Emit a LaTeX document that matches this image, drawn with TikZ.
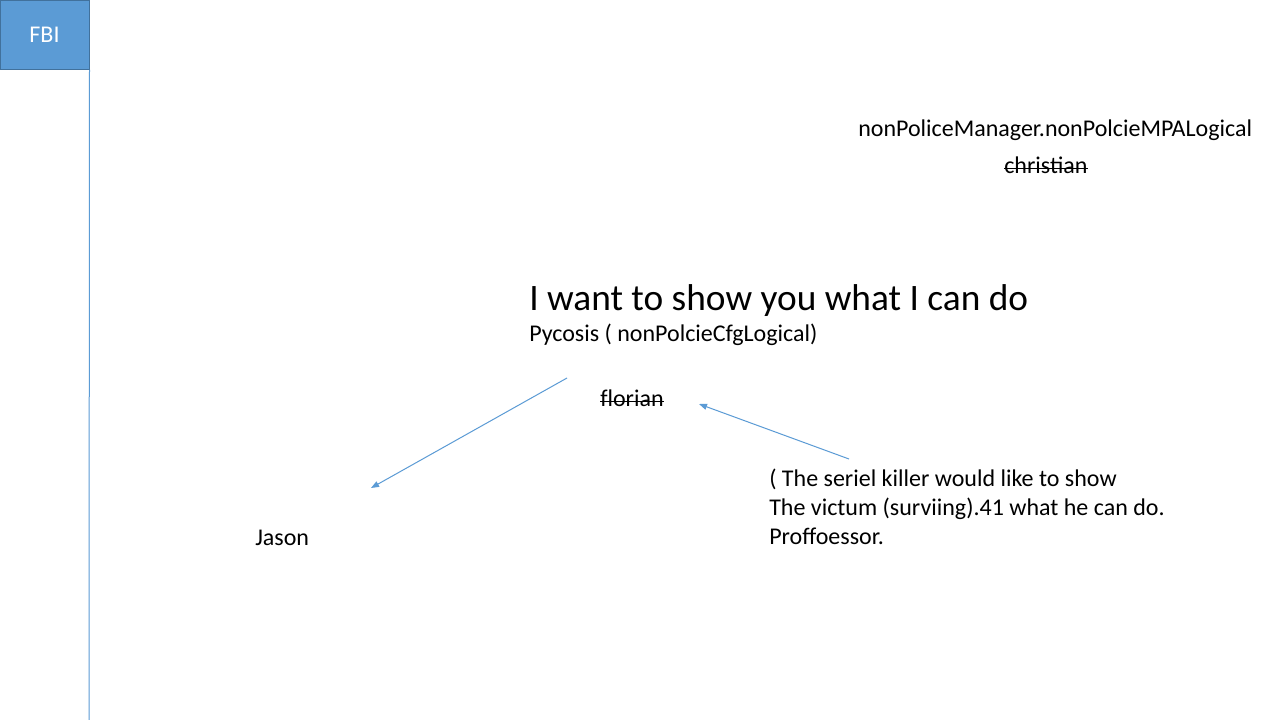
\documentclass[tikz,border=0pt]{standalone}
\usepackage{fontspec}
\setmainfont{Carlito}
\usetikzlibrary{arrows.meta}
\definecolor{accent}{HTML}{5B9BD5}
\definecolor{accentdark}{HTML}{41719C}
\tikzset{
  txt/.style={inner sep=0pt, anchor=base west, font=\fontsize{18}{21.75}\selectfont},
  bigtxt/.style={inner sep=0pt, anchor=base west, font=\fontsize{28}{33}\selectfont},
  conn/.style={draw=accent, line width=0.75pt, -{Triangle[length=6pt,width=4.5pt]}},
  fbibox/.style={fill=accent, draw=accentdark, line width=0.75pt, text=white, font=\fontsize{18}{21.75}\selectfont, inner sep=0pt, minimum width=66.75pt, minimum height=51.75pt},
  strike/.style={draw=black, line width=0.9pt}
}
\begin{document}
\begin{tikzpicture}[x=0.75pt,y=-0.75pt]
\useasboundingbox (0,0) rectangle (1280,720);
\fill[white] (0,0) rectangle (1280,720);
% FBI box and vertical line
\node[fbibox] (fbi) at (44.5,35) {FBI};
\coordinate (lineend) at (89,720);
\draw[accent, line width=0.75pt] (fbi.south east) -- (lineend);
% top right
\node[txt] (mgr) at (858,137) {nonPoliceManager.nonPolcieMPALogical};
\node[txt] (christian) at (1004,174) {christian};
\draw[strike] ([yshift=4pt]christian.base west) -- ([yshift=4pt]christian.base east);
% center
\node[bigtxt] (title) at (529,310) {I want to show you what I can do};
\node[txt] (pycosis) at (529,341.5) {Pycosis ( nonPolcieCfgLogical)};
\node[txt] (florian) at (600,406.5) {f\kern0pt lorian};
\draw[strike] ([yshift=4pt]florian.base west) -- ([yshift=4pt]florian.base east);
% paragraph
\node[txt] (p1) at (769,486.5) {( The seriel killer would like to show};
\node[txt] (p2) at (769,515.5) {The victum (surviing).41 what he can do.};
\node[txt] (p3) at (769,544.5) {Proffoessor.};
% Jason
\node[txt] (jason) at (255,545) {Jason};
% arrows
\coordinate (a1s) at (567,378);
\coordinate (a1e) at (371,488);
\coordinate (a2s) at (849,459);
\coordinate (a2e) at (699,404);
\draw[conn] (a1s) -- (a1e);
\draw[conn] (a2s) -- (a2e);
\end{tikzpicture}
\end{document}
